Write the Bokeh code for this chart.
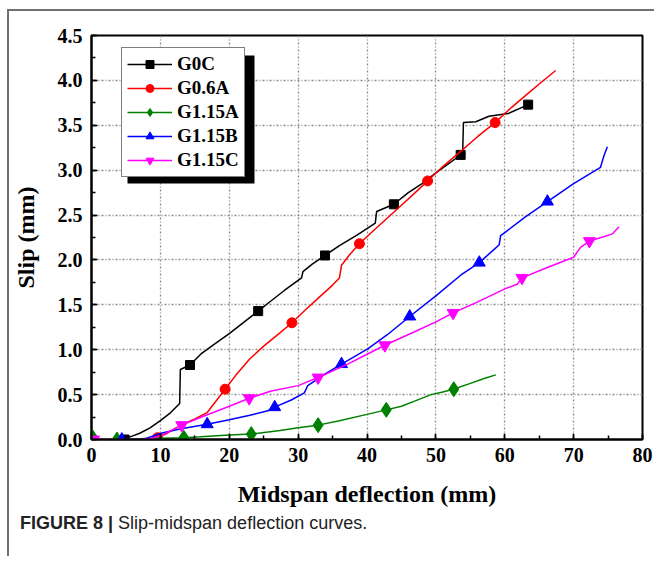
from bokeh.plotting import figure
from bokeh.layouts import column
from bokeh.models import (Range1d, SingleIntervalTicker, Legend, LegendItem,
                          BoxAnnotation, Div, NumeralTickFormatter)
from bokeh.embed import file_html
from bokeh.resources import INLINE

# ---------------- data ----------------
g0c_x = [4.5, 6, 7, 8.5, 10, 11.5, 12.8, 12.9, 14.3, 16, 18, 20, 22, 24.2, 26, 28, 30.5, 30.7,
         32, 33.9, 36, 38.6, 40.6, 41.2, 41.4, 43.9, 46, 48, 50, 52, 53.6, 53.9, 54.0, 55.8,
         57.7, 60.5, 63.4]
g0c_y = [0.0, 0.04, 0.07, 0.13, 0.21, 0.30, 0.40, 0.78, 0.83, 0.96, 1.07, 1.18, 1.30, 1.43,
         1.54, 1.66, 1.80, 1.87, 1.95, 2.05, 2.16, 2.28, 2.38, 2.41, 2.54, 2.62, 2.75, 2.85,
         2.97, 3.08, 3.17, 3.22, 3.53, 3.54, 3.60, 3.63, 3.73]
g0c_mx = [4.8, 14.3, 24.2, 33.9, 43.9, 53.6, 63.4]
g0c_my = [0.0, 0.83, 1.43, 2.05, 2.62, 3.17, 3.73]

g06a_x = [0, 3, 6, 8, 9.5, 11, 13, 15, 16.8, 18, 19.4, 21, 23, 25, 27.4, 29.1, 31, 33, 35, 36,
          36.3, 37.5, 38.9, 41, 43, 45, 47, 48.8, 51, 53.6, 56, 58.6, 61, 63, 65, 67.4]
g06a_y = [0, 0, 0, 0.0, 0.02, 0.07, 0.16, 0.23, 0.30, 0.42, 0.56, 0.72, 0.90, 1.04, 1.19, 1.30,
          1.44, 1.58, 1.72, 1.80, 1.94, 2.06, 2.18, 2.33, 2.47, 2.61, 2.75, 2.88, 3.04, 3.21,
          3.37, 3.53, 3.70, 3.83, 3.96, 4.11]
g06a_mx = [0.3, 9.6, 19.4, 29.1, 38.9, 48.8, 58.6]
g06a_my = [0.0, 0.02, 0.56, 1.30, 2.18, 2.88, 3.53]

g115a_x = [0, 3.7, 8, 13.4, 15.8, 20, 23.2, 27.4, 30, 32.9, 36, 40, 42.8, 45, 47, 49.3, 51,
           52.5, 54.8, 57, 58.7]
g115a_y = [0.0, 0.0, 0.01, 0.02, 0.03, 0.05, 0.06, 0.10, 0.13, 0.16, 0.21, 0.28, 0.33, 0.37,
           0.43, 0.50, 0.53, 0.56, 0.62, 0.68, 0.72]
g115a_mx = [0.2, 3.7, 13.4, 23.2, 32.9, 42.8, 52.6]
g115a_my = [0.02, 0.0, 0.02, 0.06, 0.16, 0.33, 0.56]

g115b_x = [4.4, 7.5, 10.1, 13, 16.8, 20, 23, 25.6, 26.6, 29, 30.9, 31.4, 33.5, 36.3, 40.1, 43,
           46.2, 50, 53.6, 56.3, 58.5, 59.2, 59.4, 60.1, 63, 66.2, 70, 73.9, 74.4, 74.9]
g115b_y = [0.0, 0.0, 0.07, 0.12, 0.17, 0.22, 0.27, 0.32, 0.36, 0.44, 0.52, 0.60, 0.71, 0.84,
           1.01, 1.17, 1.37, 1.60, 1.83, 1.97, 2.12, 2.17, 2.27, 2.31, 2.48, 2.65, 2.85, 3.03,
           3.16, 3.26]
g115b_mx = [4.4, 16.8, 26.6, 36.3, 46.2, 56.3, 66.2]
g115b_my = [0.0, 0.17, 0.36, 0.84, 1.37, 1.97, 2.65]

g115c_x = [0, 3, 8, 10, 13.1, 16, 20, 22.9, 26.1, 30, 32.9, 37.2, 40, 42.6, 46.9, 50, 52.5, 56,
           60.1, 61.8, 62.5, 66, 70, 71, 72.3, 74, 75.6, 76.6]
g115c_y = [0, 0, 0.0, 0.04, 0.16, 0.25, 0.37, 0.46, 0.54, 0.60, 0.69, 0.84, 0.95, 1.05, 1.20,
           1.31, 1.41, 1.53, 1.68, 1.73, 1.80, 1.91, 2.03, 2.14, 2.21, 2.25, 2.29, 2.37]
g115c_mx = [0.3, 13.1, 22.9, 32.9, 42.6, 52.5, 62.5, 72.3]
g115c_my = [0.0, 0.16, 0.46, 0.69, 1.05, 1.41, 1.80, 2.21]

series_names = ["G0C", "G0.6A", "G1.15A", "G1.15B", "G1.15C"]

# ---------------- figure ----------------
SERIF = "Liberation Serif"
p = figure(width=645, height=503, output_backend="svg", toolbar_location=None,
           x_range=Range1d(0, 80), y_range=Range1d(0, 4.5),
           min_border_left=81, min_border_right=12, min_border_top=24, min_border_bottom=75)
p.background_fill_color = "white"
p.border_fill_color = "white"
p.outline_line_color = "black"
p.outline_line_width = 2

for ax in (p.xaxis[0], p.yaxis[0]):
    ax.axis_line_width = 2
    ax.major_tick_in = 6
    ax.major_tick_out = 0
    ax.minor_tick_in = 4
    ax.minor_tick_out = 0
    ax.major_tick_line_width = 1.5
    ax.minor_tick_line_width = 1.5
    ax.major_label_text_font = SERIF
    ax.major_label_text_font_size = "20px"
    ax.major_label_text_font_style = "bold"
    ax.major_label_text_color = "black"
    ax.axis_label_text_font = SERIF
    ax.axis_label_text_font_size = "24px"
    ax.axis_label_text_font_style = "bold"
    ax.axis_label_text_color = "black"

p.xaxis.ticker = SingleIntervalTicker(interval=10, num_minor_ticks=2)
p.yaxis.ticker = SingleIntervalTicker(interval=0.5, num_minor_ticks=2)
p.yaxis.formatter = NumeralTickFormatter(format="0.0")
p.xaxis.axis_label = "Midspan deflection (mm)"
p.yaxis.axis_label = "Slip (mm)"
p.xaxis.major_label_standoff = 8
p.yaxis.major_label_standoff = 9
p.xaxis.axis_label_standoff = 16
p.yaxis.axis_label_standoff = 16

for g in (p.xgrid[0], p.ygrid[0]):
    g.grid_line_color = "#8a8a8a"
    g.grid_line_dash = "1 2 2 2"
    g.grid_line_width = 1.3

colors = ["black", "red", "green", "blue", "magenta"]
data = [(g0c_x, g0c_y, g0c_mx, g0c_my, "square", 9),
        (g06a_x, g06a_y, g06a_mx, g06a_my, "circle", 10),
        (g115a_x, g115a_y, g115a_mx, g115a_my, "diamond", 15),
        (g115b_x, g115b_y, g115b_mx, g115b_my, "triangle", 12),
        (g115c_x, g115c_y, g115c_mx, g115c_my, "inverted_triangle", 12)]

items = []
for name, col, (lx, ly, mx, my, mk, sz) in zip(series_names, colors, data):
    lr = p.line(lx, ly, line_color=col, line_width=1.5)
    mr = p.scatter(mx, my, marker=mk, size=sz, fill_color=col, line_color=col)
    items.append(LegendItem(label=name, renderers=[lr, mr]))

# legend shadow
shadow = BoxAnnotation(left=36, right=36 + 127, bottom=262 - 6, top=262 - 6 + 128,
                       left_units="screen", right_units="screen",
                       bottom_units="screen", top_units="screen",
                       fill_color="black", fill_alpha=1.0, line_color=None)
p.add_layout(shadow)

legend = Legend(items=items, location=(30, 262), glyph_width=45, glyph_height=20,
                label_height=20, label_standoff=5, spacing=2, padding=5, margin=0,
                border_line_color="black", border_line_width=1.5,
                background_fill_color="white", background_fill_alpha=1.0,
                label_text_font=SERIF, label_text_font_size="19px",
                label_text_font_style="bold", label_text_color="black")
p.add_layout(legend)

caption = Div(text="<b>FIGURE 8 |</b> Slip-midspan deflection curves.", width=645, height=40,
              styles={"font-family": "'Liberation Sans', Arial, sans-serif",
                      "font-size": "18px", "color": "#222222",
                      "padding-left": "6px", "margin-top": "-3px"})

layout = column(p, caption, spacing=0,
                styles={"border-left": "2px solid #707070", "border-top": "2px solid #707070",
                        "margin-left": "7px", "margin-top": "9px"})

open("out.html", "w").write(file_html(layout, INLINE))
